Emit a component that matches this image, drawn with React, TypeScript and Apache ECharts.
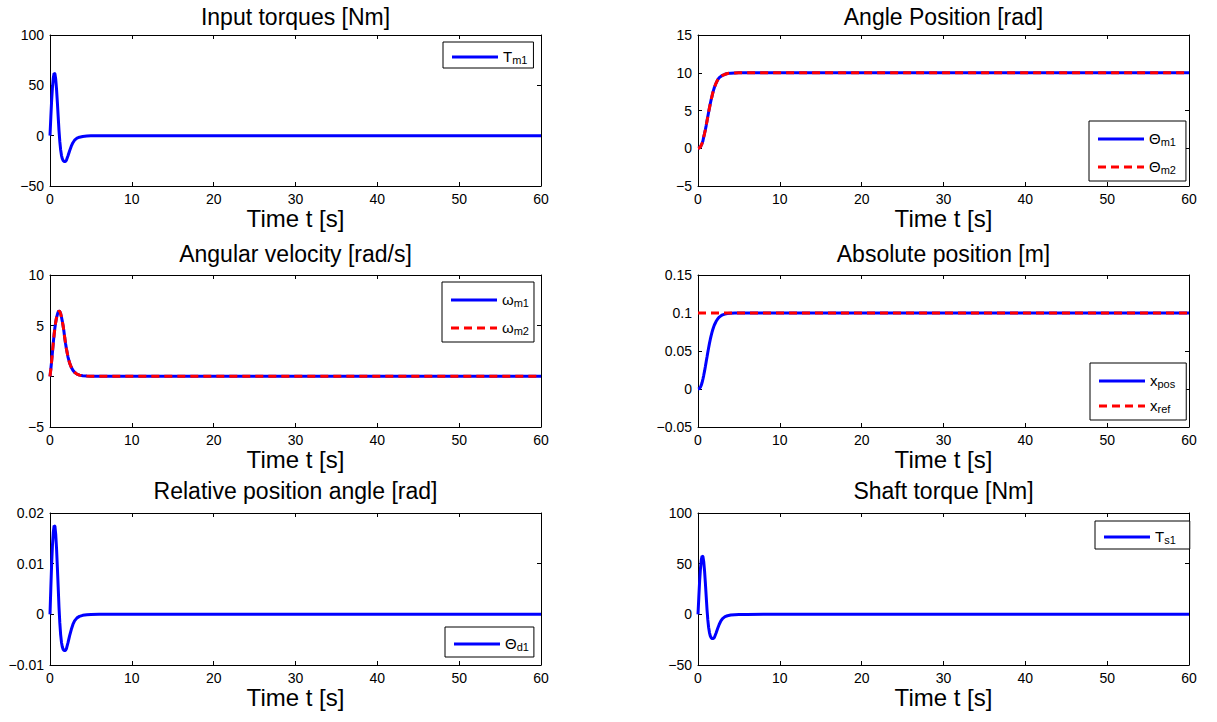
import React, { useEffect, useRef } from "react";
import * as echarts from "echarts";

// Simulation time samples [s]: dense over the transient, then the settled tail.
const timeS = [
  0, 0.1, 0.2, 0.3, 0.4, 0.5, 0.6, 0.7, 0.8, 0.9, 1.0, 1.1, 1.2, 1.3, 1.4, 1.5, 1.6, 1.7,
  1.8, 1.9, 2.0, 2.2, 2.4, 2.6, 2.8, 3.0, 3.3, 3.6, 4.0, 4.5, 5.0, 6.0, 8.0, 60,
];

// Input torque T_m1 [Nm]
const torqueM1 = [
  0, 18, 35, 48, 57, 62, 61.5, 56, 46, 33, 19, 5, -6, -14, -19.5, -22.8, -24.6, -25.5,
  -25.8, -25.5, -24.5, -20, -15, -10.5, -7, -4.5, -2.5, -1.5, -0.8, -0.4, -0.2, -0.05, 0, 0,
];

// Motor angles Θ_m1, Θ_m2 [rad]
const thetaM1 = [
  0, 0.02, 0.08, 0.2, 0.4, 0.65, 0.97, 1.5, 1.95, 2.45, 3.0, 3.6, 4.2, 4.8, 5.35, 5.9, 6.4,
  6.85, 7.3, 7.7, 8.05, 8.6, 9.05, 9.35, 9.52, 9.66, 9.8, 9.9, 9.95, 9.98, 9.99, 10, 10, 10,
];
const thetaM2 = [
  0, 0.02, 0.08, 0.2, 0.4, 0.65, 0.97, 1.5, 1.95, 2.45, 3.0, 3.6, 4.2, 4.8, 5.35, 5.9, 6.4,
  6.85, 7.3, 7.7, 8.05, 8.6, 9.05, 9.35, 9.52, 9.66, 9.8, 9.9, 9.95, 9.98, 9.99, 10, 10, 10,
];

// Angular velocities ω_m1, ω_m2 [rad/s]
const omegaM1 = [
  0, 0.7, 1.5, 2.4, 3.3, 4.1, 4.8, 5.35, 5.8, 6.1, 6.35, 6.45, 6.4, 6.2, 5.85, 5.45, 5.0,
  4.45, 3.8, 3.25, 2.75, 1.9, 1.3, 0.9, 0.6, 0.4, 0.22, 0.12, 0.06, 0.03, 0.01, 0, 0, 0,
];
const omegaM2 = [
  0, 0.7, 1.5, 2.4, 3.3, 4.1, 4.8, 5.35, 5.8, 6.1, 6.35, 6.45, 6.4, 6.2, 5.85, 5.45, 5.0,
  4.45, 3.8, 3.25, 2.75, 1.9, 1.3, 0.9, 0.6, 0.4, 0.22, 0.12, 0.06, 0.03, 0.01, 0, 0, 0,
];

// Absolute load position x_pos [m] and its reference x_ref
const xPos = [
  0, 0.0003, 0.001, 0.0025, 0.005, 0.0085, 0.013, 0.018, 0.0235, 0.0295, 0.0358, 0.042,
  0.0483, 0.0543, 0.06, 0.0652, 0.07, 0.0742, 0.078, 0.0813, 0.0842, 0.0888, 0.0922,
  0.0946, 0.0963, 0.0975, 0.0986, 0.0993, 0.0997, 0.0999, 0.1, 0.1, 0.1, 0.1,
];
const xRefTime = [0, 60];
const xRef = [0.1, 0.1];

// Relative (twist) angle Θ_d1 [rad]
const thetaD1 = [
  0, 0.0051, 0.0099, 0.0136, 0.0161, 0.0175, 0.0174, 0.0158, 0.013, 0.0093, 0.0054, 0.0014,
  -0.0017, -0.004, -0.0055, -0.0064, -0.0069, -0.0071, -0.0072, -0.0071, -0.0068, -0.0056,
  -0.0042, -0.003, -0.002, -0.0013, -0.0007, -0.0004, -0.0002, -0.0001, -0.00005, 0, 0, 0,
];

// Shaft torque T_s1 [Nm]
const torqueS1 = [
  0, 17, 33, 45, 53.5, 57.5, 57, 52, 43, 31, 18, 5, -5.5, -13, -18, -21.2, -23, -23.8, -24,
  -23.7, -22.8, -18.6, -14, -9.8, -6.5, -4.2, -2.3, -1.4, -0.7, -0.35, -0.18, -0.05, 0, 0,
];

// Axis ranges [min, max, step]
const timeRange = [0, 60, 10];
const torqueRange = [-50, 100, 50];
const angleRange = [-5, 15, 5];
const velocityRange = [-5, 10, 5];
const positionRange = [-0.05, 0.15, 0.05];
const twistRange = [-0.01, 0.02, 0.01];

const BLUE = "#0000ff";
const RED = "#ff0000";
const FONT = "'Liberation Sans', Arial, Helvetica, sans-serif";

// Legend keys: a solid bar, or four dashes, sized to the legend item box.
const SOLID_KEY = "path://M0,0h46v3h-46z";
const DASHED_KEY = "path://M0,0h8v3h-8zM13,0h8v3h-8zM26,0h8v3h-8zM39,0h7v3h-7z";

type Trace = { name: string; label: [string, string]; t: number[]; y: number[]; color: string; dashed?: boolean };
type Panel = {
  title: string;
  range: number[];
  traces: Trace[];
  legend: { left: number; top: number; pad: number; gap: number; padRight: number };
};

const panels: Panel[] = [
  {
    title: "Input torques [Nm]",
    range: torqueRange,
    traces: [{ name: "Tm1", label: ["T", "m1"], t: timeS, y: torqueM1, color: BLUE }],
    legend: { left: 443, top: 42, pad: 3, gap: 0, padRight: 6 },
  },
  {
    title: "Angle Position [rad]",
    range: angleRange,
    traces: [
      { name: "Θm1", label: ["Θ", "m1"], t: timeS, y: thetaM1, color: BLUE },
      { name: "Θm2", label: ["Θ", "m2"], t: timeS, y: thetaM2, color: RED, dashed: true },
    ],
    legend: { left: 1089, top: 121, pad: 6, gap: 8, padRight: 10 },
  },
  {
    title: "Angular velocity [rad/s]",
    range: velocityRange,
    traces: [
      { name: "ωm1", label: ["ω", "m1"], t: timeS, y: omegaM1, color: BLUE },
      { name: "ωm2", label: ["ω", "m2"], t: timeS, y: omegaM2, color: RED, dashed: true },
    ],
    legend: { left: 442, top: 282, pad: 6, gap: 8, padRight: 5 },
  },
  {
    title: "Absolute position [m]",
    range: positionRange,
    traces: [
      { name: "xpos", label: ["x", "pos"], t: timeS, y: xPos, color: BLUE },
      { name: "xref", label: ["x", "ref"], t: xRefTime, y: xRef, color: RED, dashed: true },
    ],
    legend: { left: 1090, top: 363, pad: 6, gap: 5, padRight: 11 },
  },
  {
    title: "Relative position angle [rad]",
    range: twistRange,
    traces: [{ name: "Θd1", label: ["Θ", "d1"], t: timeS, y: thetaD1, color: BLUE }],
    legend: { left: 445, top: 627, pad: 5, gap: 0, padRight: 5 },
  },
  {
    title: "Shaft torque [Nm]",
    range: torqueRange,
    traces: [{ name: "Ts1", label: ["T", "s1"], t: timeS, y: torqueS1, color: BLUE }],
    legend: { left: 1095, top: 521, pad: 4, gap: 0, padRight: 14 },
  },
];

const colLeft = [50, 698];
const plotWidth = 491;
const rowTop = [35, 275, 513];
const rowHeight = [151, 152, 152];
const titleTop = [5, 242, 479];

const minusSign = (v: number) => String(v).replace("-", "\u2212");

function buildOption() {
  const grid: any[] = [];
  const xAxis: any[] = [];
  const yAxis: any[] = [];
  const series: any[] = [];
  const legend: any[] = [];
  const title: any[] = [];

  panels.forEach((p, i) => {
    const col = i % 2;
    const row = Math.floor(i / 2);
    grid.push({ left: colLeft[col], top: rowTop[row], width: plotWidth, height: rowHeight[row] });
    title.push({
      text: p.title,
      left: colLeft[col] + plotWidth / 2,
      top: titleTop[row],
      textAlign: "center",
      padding: 0,
      textStyle: { fontFamily: FONT, fontSize: 23, fontWeight: "normal", color: "#000" },
    });

    const frame = {
      axisLine: { show: true, onZero: false, lineStyle: { color: "#000", width: 1 } },
      axisTick: { show: true, inside: true, length: 4, lineStyle: { color: "#000" } },
      splitLine: { show: false },
    };
    const [t0, t1, dt] = timeRange;
    xAxis.push({
      type: "value", gridIndex: i, position: "bottom", min: t0, max: t1, interval: dt, ...frame,
      axisLabel: { color: "#000", fontFamily: FONT, fontSize: 14, margin: 6 },
      name: "Time t [s]", nameLocation: "middle", nameGap: 14,
      nameTextStyle: { color: "#000", fontFamily: FONT, fontSize: 24, verticalAlign: "top" },
    });
    xAxis.push({
      type: "value", gridIndex: i, position: "top", min: t0, max: t1, interval: dt, ...frame,
      axisLabel: { show: false },
    });
    const [y0, y1, dy] = p.range;
    yAxis.push({
      type: "value", gridIndex: i, position: "left", min: y0, max: y1, interval: dy, ...frame,
      axisLabel: { color: "#000", fontFamily: FONT, fontSize: 14, margin: 6, formatter: minusSign },
    });
    yAxis.push({
      type: "value", gridIndex: i, position: "right", min: y0, max: y1, interval: dy, ...frame,
      axisLabel: { show: false },
    });

    p.traces.forEach((tr) => {
      series.push({
        type: "line",
        name: tr.name,
        xAxisIndex: 2 * i,
        yAxisIndex: 2 * i,
        data: tr.t.map((t, k) => [t, tr.y[k]]),
        symbol: "none",
        showSymbol: false,
        color: tr.color,
        lineStyle: { color: tr.color, width: 3, type: tr.dashed ? [8, 5] : "solid" },
      });
    });

    const labels: Record<string, [string, string]> = {};
    p.traces.forEach((tr) => (labels[tr.name] = tr.label));
    legend.push({
      data: p.traces.map((tr) => ({
        name: tr.name,
        icon: tr.dashed ? DASHED_KEY : SOLID_KEY,
        itemStyle: { color: tr.color },
      })),
      orient: "vertical",
      left: p.legend.left,
      top: p.legend.top,
      backgroundColor: "#fff",
      borderColor: "#000",
      borderWidth: 1,
      borderRadius: 0,
      padding: [p.legend.pad, p.legend.padRight, p.legend.pad, 9],
      itemGap: p.legend.gap,
      itemWidth: 46,
      itemHeight: 3,
      selectedMode: false,
      formatter: (name: string) => `{m|${labels[name][0]}}{s|${labels[name][1]}}`,
      textStyle: {
        color: "#000",
        fontFamily: FONT,
        rich: {
          m: { fontFamily: FONT, fontSize: 15, lineHeight: 16, verticalAlign: "top", color: "#000" },
          s: { fontFamily: FONT, fontSize: 11, lineHeight: 11, padding: [9, 0, 0, 0], verticalAlign: "bottom", color: "#000" },
        },
      },
    });
  });

  return {
    animation: false,
    backgroundColor: "#fff",
    title,
    grid,
    xAxis,
    yAxis,
    legend,
    series,
  };
}

export default function App() {
  const ref = useRef<HTMLDivElement>(null);
  useEffect(() => {
    if (!ref.current) return;
    const chart = echarts.init(ref.current, undefined, { renderer: "svg" });
    chart.setOption(buildOption());
    return () => chart.dispose();
  }, []);
  return (
    <div
      ref={ref}
      style={{ position: "fixed", left: 0, top: 0, width: 1217, height: 722, background: "#fff" }}
    />
  );
}
